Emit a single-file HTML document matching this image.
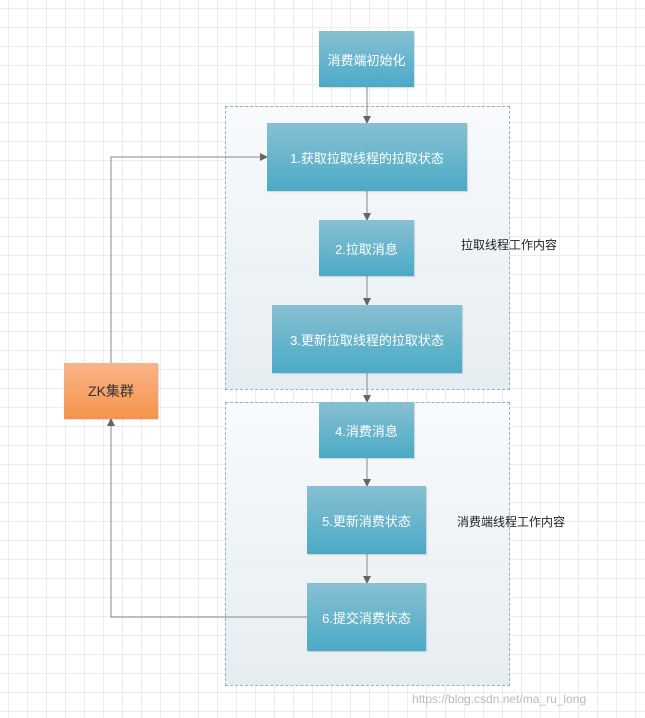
<!DOCTYPE html>
<html><head><meta charset="utf-8"><style>
body{margin:0;width:645px;height:718px;position:relative;overflow:hidden;background:#fff;
background-image:linear-gradient(#ececec 1px,transparent 1px),linear-gradient(90deg,#ececec 1px,transparent 1px);
background-size:19px 19px;background-position:8px 8px;
font-family:"Liberation Sans","Noto Sans CJK SC",sans-serif;}
.g{position:absolute;border:1px dashed #8fb5c0;background:linear-gradient(#f8fafc,#e6edf1);box-sizing:border-box}
.b{position:absolute;box-sizing:border-box;background:linear-gradient(#88c0d2,#4baac7);color:#fff;font-size:13px;display:flex;align-items:center;justify-content:center;box-shadow:1px 1px 1px rgba(0,0,0,.15)}
.z{background:linear-gradient(#f9b48a,#f6934a);color:#333;font-size:14px}
.t{position:absolute;font-size:12px;color:#222}
svg{position:absolute;left:0;top:0}
</style></head><body>
<div class="g" style="left:225px;top:106px;width:285px;height:284px"></div>
<div class="g" style="left:225px;top:402px;width:285px;height:284px"></div>
<svg width="645" height="718">
<defs><marker id="a" markerWidth="8" markerHeight="8" refX="7" refY="4" orient="auto" markerUnits="userSpaceOnUse"><path d="M0,0L8,4L0,8z" fill="#666"/></marker></defs>
<g stroke="#888" stroke-width="1" fill="none" marker-end="url(#a)">
<path d="M367 87V123"/><path d="M367 191V220"/><path d="M367 276V305"/><path d="M367 373V402"/>
<path d="M367 458V486"/><path d="M367 554V583"/>
<path d="M111 363V157H267"/><path d="M307 617H111V419"/>
</g></svg>
<div class="b" style="left:319px;top:31px;width:95px;height:56px">消费端初始化</div>
<div class="b" style="left:267px;top:123px;width:200px;height:68px">1.获取拉取线程的拉取状态</div>
<div class="b" style="left:319px;top:220px;width:95px;height:56px">2.拉取消息</div>
<div class="b" style="left:272px;top:305px;width:190px;height:68px">3.更新拉取线程的拉取状态</div>
<div class="b" style="left:319px;top:402px;width:95px;height:56px">4.消费消息</div>
<div class="b" style="left:307px;top:486px;width:119px;height:68px">5.更新消费状态</div>
<div class="b" style="left:307px;top:583px;width:119px;height:68px">6.提交消费状态</div>
<div class="b z" style="left:64px;top:363px;width:94px;height:56px">ZK集群</div>
<div class="t" style="left:461px;top:236px">拉取线程工作内容</div>
<div class="t" style="left:457px;top:513px">消费端线程工作内容</div>
<div class="t" style="left:412px;top:692px;color:#bbb;font-size:12px">https://blog.csdn.net/ma_ru_long</div>
</body></html>
